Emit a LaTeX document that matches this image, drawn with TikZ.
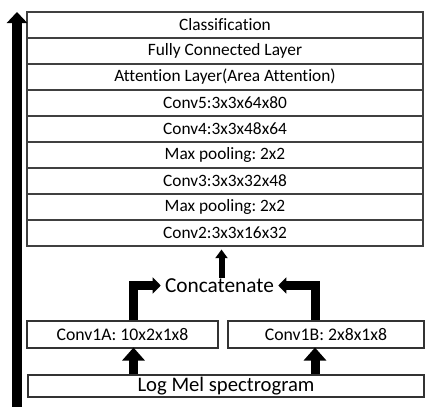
\documentclass[tikz,border=0pt]{standalone}
\usepackage{fontspec}
\setmainfont{Carlito}[Ligatures={NoCommon}]
\usetikzlibrary{arrows.meta}
\frenchspacing
\begin{document}
\begin{tikzpicture}[x=0.75pt,y=-0.75pt,
  rowbox/.style={draw=black!75, line width=0.8pt, minimum width=297pt, minimum height=19.5pt, inner sep=0pt, font=\fontsize{13}{15}\selectfont},
  convbox/.style={draw=black!80, line width=0.8pt, minimum height=20.25pt, inner sep=0pt, font=\fontsize{13.3}{15}\selectfont},
  bigarrow/.style={line width=7.5pt, -{Triangle[width=15pt,length=8.25pt]}},
  bentarrow/.style={line width=6.75pt, line join=miter, -{Triangle[width=12pt,length=6pt]}},
  feedarrow/.style={line width=6.75pt, -{Triangle[width=16.5pt,length=9.75pt]}},
  thinarrow/.style={line width=4.5pt, -{Triangle[width=9pt,length=6.5pt]}}
]
\useasboundingbox (0,0) rectangle (436,407);
% stack
\node[rowbox] (cls) at (225,25) {Classification};
\node[rowbox] (fc) at (225,51) {Fully Connected Layer};
\node[rowbox] (att) at (225,77) {Attention Layer(Area Attention)};
\node[rowbox] (c5) at (225,103) {Conv5:3x3x64x80};
\node[rowbox] (c4) at (225,129) {Conv4:3x3x48x64};
\node[rowbox] (mp2) at (225,155) {Max pooling: 2x2};
\node[rowbox] (c3) at (225,181) {Conv3:3x3x32x48};
\node[rowbox] (mp1) at (225,207) {Max pooling: 2x2};
\node[rowbox] (c2) at (225,233) {Conv2:3x3x16x32};
% lower part
\node[font=\fontsize{16}{18}\selectfont, inner xsep=3pt, inner ysep=0pt] (concat) at (219.5,285.5) {Concatenate};
\node[convbox, minimum width=143.25pt] (c1a) at (122.5,334.5) {Conv1A: 10x2x1x8};
\node[convbox, minimum width=147pt] (c1b) at (326,334.5) {Conv1B: 2x8x1x8};
\node[draw=black!80, line width=0.8pt, minimum width=297pt, minimum height=16.5pt, inner sep=0pt, font=\fontsize{15.5}{17}\selectfont] (lms) at (226,386) {Log Mel spectrogram};
% helper coordinates
\coordinate (ax) at (133.5,0);
\coordinate (bx) at (315,0);
\coordinate (cx) at (221.5,0);
\coordinate (bigbot) at (17,407);
\coordinate (bigtop) at (17,12);
% arrows
\draw[bigarrow] (bigbot) -- (bigtop);
\draw[feedarrow] (lms.north -| ax) -- ([yshift=0.75pt]c1a.south -| ax);
\draw[feedarrow] (lms.north -| bx) -- ([yshift=0.75pt]c1b.south -| bx);
\draw[bentarrow] (c1a.north -| ax) |- (concat.west);
\draw[bentarrow] (c1b.north -| bx) |- (concat.east);
\draw[thinarrow] (concat.north -| cx) -- ([yshift=-2.25pt]c2.south -| cx);
\end{tikzpicture}
\end{document}
